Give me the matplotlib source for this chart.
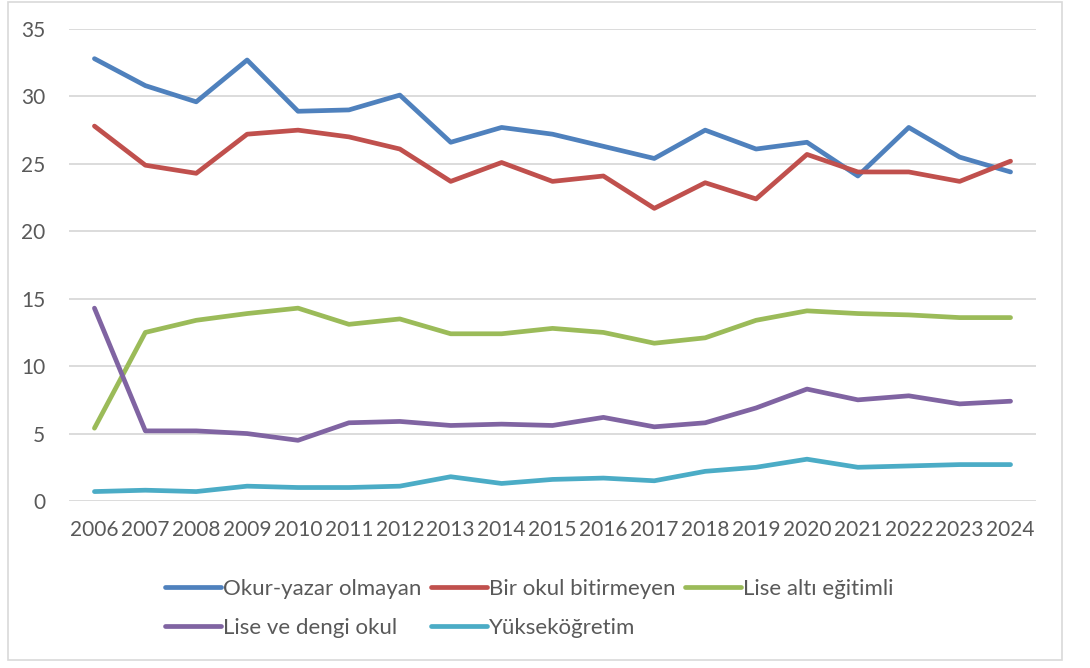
import matplotlib
matplotlib.use("Agg")
import matplotlib.pyplot as plt
from matplotlib.patches import Rectangle

plt.rcParams['font.family'] = ['Lato', 'DejaVu Sans']

years = [str(y) for y in range(2006, 2025)]

okur_yazar_olmayan = [32.8, 30.8, 29.6, 32.7, 28.9, 29.0, 30.1, 26.6, 27.7, 27.2,
                      26.3, 25.4, 27.5, 26.1, 26.6, 24.1, 27.7, 25.5, 24.4]
bir_okul_bitirmeyen = [27.8, 24.9, 24.3, 27.2, 27.5, 27.0, 26.1, 23.7, 25.1, 23.7,
                       24.1, 21.7, 23.6, 22.4, 25.7, 24.4, 24.4, 23.7, 25.2]
lise_alti = [5.4, 12.5, 13.4, 13.9, 14.3, 13.1, 13.5, 12.4, 12.4, 12.8,
             12.5, 11.7, 12.1, 13.4, 14.1, 13.9, 13.8, 13.6, 13.6]
lise_ve_dengi = [14.3, 5.2, 5.2, 5.0, 4.5, 5.8, 5.9, 5.6, 5.7, 5.6,
                 6.2, 5.5, 5.8, 6.9, 8.3, 7.5, 7.8, 7.2, 7.4]
yuksekogretim = [0.7, 0.8, 0.7, 1.1, 1.0, 1.0, 1.1, 1.8, 1.3, 1.6,
                 1.7, 1.5, 2.2, 2.5, 3.1, 2.5, 2.6, 2.7, 2.7]

series = [
    ("Okur-yazar olmayan", okur_yazar_olmayan, "#4F81BD"),
    ("Bir okul bitirmeyen", bir_okul_bitirmeyen, "#C0504D"),
    ("Lise altı eğitimli", lise_alti, "#9BBB59"),
    ("Lise ve dengi okul", lise_ve_dengi, "#8064A2"),
    ("Yükseköğretim", yuksekogretim, "#4BACC6"),
]

fig = plt.figure(figsize=(10.9, 6.68), dpi=100)
ax = fig.add_axes([69 / 1090, 1 - 501 / 668, 967 / 1090, 472 / 668])

x = range(len(years))
handles = []
for name, vals, col in series:
    h, = ax.plot(x, vals, color=col, lw=3.4, solid_capstyle='round',
                 solid_joinstyle='round', label=name)
    handles.append(h)

ax.set_xlim(-0.5, len(years) - 0.5)
ax.set_ylim(0, 35)
ax.set_yticks(range(0, 36, 5))
ax.set_xticks(list(x))
ax.set_xticklabels(years)
ax.grid(axis='y', color='#D9D9D9', lw=1.3)
ax.set_axisbelow(True)
for s in ax.spines.values():
    s.set_visible(False)
ax.tick_params(length=0, labelsize=15, labelcolor='#595959', pad=14)
ax.tick_params(axis='y', pad=17)

# order so the rows come out like the original
order = [0, 3, 1, 4, 2]
leg = fig.legend([handles[i] for i in order], [series[i][0] for i in order],
                 ncol=3, loc='upper left', bbox_to_anchor=(145 / 1090, 1 - 559 / 668),
                 frameon=False, fontsize=16, handlelength=2.5, handletextpad=0.1,
                 columnspacing=0.45, labelspacing=0.85, labelcolor='#595959')

fig.patches.append(Rectangle((8 / 1090, 1 - 660 / 668), 1054 / 1090, 658 / 668,
                             transform=fig.transFigure, fill=False,
                             edgecolor='#D9D9D9', lw=1.2))

fig.savefig("out.png", dpi=100)
